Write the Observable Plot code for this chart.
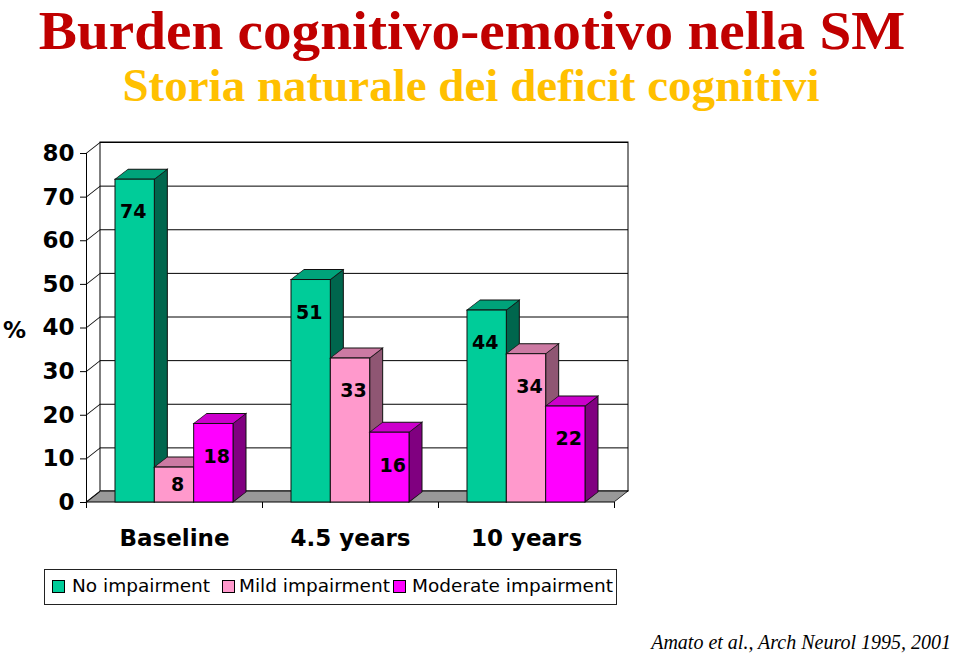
<!DOCTYPE html>
<html>
<head>
<meta charset="utf-8">
<script src="https://cdn.jsdelivr.net/npm/d3@7"></script>
<script src="https://cdn.jsdelivr.net/npm/@observablehq/plot@0.6"></script>
<style>
  html, body { margin: 0; padding: 0; background: #fff; }
  body { position: relative; width: 960px; height: 655px; overflow: hidden; }
  #title { position: absolute; left: 0; top: 4px; width: 944px; text-align: center;
    font: bold 54px "Liberation Serif", "Times New Roman", serif; line-height: 54px; color: #C00000; white-space: nowrap;
    transform: scaleX(1.06); transform-origin: 472px 0; }
  #subtitle { position: absolute; left: 0; top: 62px; width: 942px; text-align: center;
    font: bold 47px "Liberation Serif", "Times New Roman", serif; line-height: 47px; color: #FFC000; white-space: nowrap; }
  #chart { position: absolute; left: 0; top: 130px; }
  #pct { position: absolute; left: 3px; top: 319px; font: bold 23px "DejaVu Sans", Verdana, sans-serif; line-height: 23px; }
  #legend { position: absolute; left: 44px; top: 569px; width: 573px; height: 36px; box-sizing: border-box;
    border: 1px solid #222; background: #fff; }
  .sw { position: absolute; top: 10px; width: 13px; height: 13px; box-sizing: border-box; border: 1px solid #000; }
  .lt { position: absolute; top: 5px; font: 18.5px "DejaVu Sans", Verdana, sans-serif; line-height: 22px; color: #000; white-space: nowrap; }
  #caption { position: absolute; right: 9px; top: 631px; font: italic 20px "Liberation Serif", "Times New Roman", serif;
    line-height: 22px; color: #000; white-space: nowrap; }
</style>
</head>
<body>
<div id="title">Burden cognitivo-emotivo nella SM</div>
<div id="subtitle">Storia naturale dei deficit cognitivi</div>
<div id="chart"></div>
<div id="pct">%</div>
<div id="legend"></div>
<div id="caption">Amato et al., Arch Neurol 1995, 2001</div>
<script>
// ---------- data ----------
const categories = ["Baseline", "4.5 years", "10 years"];
const seriesNames = ["No impairment", "Mild impairment", "Moderate impairment"];
const noImpairment = [74, 51, 44];
const mildImpairment = [8, 33, 34];
const moderateImpairment = [18, 16, 22];
const yTicks = [0, 10, 20, 30, 40, 50, 60, 70, 80];

// ---------- styles ----------
const frontColors = ["#00CC99", "#FF99CC", "#FF00FF"];
const topColors = ["#00A37A", "#CC7AA3", "#CC00CC"];
const sideColors = ["#00664D", "#8F5673", "#800080"];
const floorColor = "#999999";

// ---------- layout ----------
const W = 960, H = 430;
const M = {top: 23, right: 346, bottom: 58, left: 86};
const innerW = W - M.left - M.right;
const band = innerW / categories.length;
const groupPad = 29;
const barW = (band - 2 * groupPad) / seriesNames.length;
const barDX = 13, barDY = 10;     // bar depth
const wallDX = 14, wallDY = 11;   // wall / floor depth

const seriesValues = [noImpairment, mildImpairment, moderateImpairment];
const table = categories.flatMap((c, ci) =>
  seriesNames.map((s, si) => ({category: c, series: s, si, value: seriesValues[si][ci]})));
const yDomain = [yTicks[0], yTicks[yTicks.length - 1]];

const marks = [];
// back wall
marks.push(Plot.barY([yDomain], {y1: d => d[0], y2: d => d[1], fill: "#fff", stroke: "#000", strokeWidth: 1,
  dx: wallDX, dy: -wallDY}));
// back-wall gridlines
marks.push(Plot.ruleY(yTicks, {y: d => d, stroke: "#000", strokeWidth: 1, dx: wallDX, dy: -wallDY}));
// floor
marks.push(Plot.barY([yDomain], {y1: d => d[0], y2: d => d[0], insetTop: -wallDY, fill: floorColor,
  stroke: "#000", strokeWidth: 1, ariaDescription: "floor"}));
// left wall diagonals
marks.push(Plot.ruleY(yTicks, {y: d => d, stroke: "#000", strokeWidth: 1, insetRight: innerW - wallDX, ariaDescription: "leftwall"}));
// category boundary ticks
marks.push(Plot.ruleX(categories, {x: d => d, y1: yDomain[0], y2: yDomain[0], insetBottom: -6, dx: -band / 2, stroke: "#000"}));
marks.push(Plot.ruleX(categories.slice(-1), {x: d => d, y1: yDomain[0], y2: yDomain[0], insetBottom: -6, dx: band / 2, stroke: "#000"}));

// bars, one series after another (painter's order)
seriesNames.forEach((s, si) => {
  const data = table.filter(d => d.si === si);
  const left = groupPad + si * barW;
  const right = band - left - barW;
  marks.push(Plot.barY(data, {x: "category", y1: () => 0, y2: "value",
    insetLeft: left + barW, insetRight: band - (left + barW) - barDX,
    fill: sideColors[si], stroke: "#111", strokeWidth: 1, ariaDescription: "side"}));
  marks.push(Plot.barY(data, {x: "category", y1: "value", y2: "value", insetTop: -barDY,
    insetLeft: left, insetRight: right,
    fill: topColors[si], stroke: "#111", strokeWidth: 1, ariaDescription: "top"}));
  marks.push(Plot.barY(data, {x: "category", y1: () => 0, y2: "value",
    insetLeft: left, insetRight: right,
    fill: frontColors[si], stroke: "#111", strokeWidth: 1, ariaDescription: "front"}));
});

// value labels
seriesNames.forEach((s, si) => {
  const data = table.filter(d => d.si === si);
  marks.push(Plot.text(data, {x: "category", y: d => Math.max(d.value - 7.5, d.value / 2), text: d => String(d.value),
    dx: (si - 1) * barW + (si > 0 ? 3 : -2), fontSize: 19, fontWeight: "bold", fill: "#000"}));
});

const svg = Plot.plot({
  width: W, height: H,
  marginTop: M.top, marginRight: M.right, marginBottom: M.bottom, marginLeft: M.left,
  style: {fontFamily: "'DejaVu Sans', Verdana, sans-serif", fontSize: "23px", fontWeight: "bold",
          color: "#000", background: "transparent", overflow: "visible"},
  x: {domain: categories, padding: 0, tickSize: 0, tickPadding: 27, label: null},
  y: {domain: yDomain, ticks: yTicks, tickSize: 6, tickPadding: 6, label: null, line: true},
  marks
});
document.getElementById("chart").appendChild(svg);

// give faces their 3D slant
function groupsOf(name) {
  return Array.from(svg.querySelectorAll("g")).filter(g => g.getAttribute("aria-description") === name);
}
const kY = barDY / barDX, kX = barDX / barDY;
groupsOf("side").forEach(g => g.querySelectorAll("rect").forEach(r => {
  const x0 = +r.getAttribute("x");
  r.setAttribute("transform", `matrix(1,${-kY},0,1,0,${kY * x0})`);
}));
groupsOf("top").forEach(g => g.querySelectorAll("rect").forEach(r => {
  const yb = +r.getAttribute("y") + +r.getAttribute("height");
  r.setAttribute("transform", `matrix(1,0,${-kX},1,${kX * yb},0)`);
}));
const fX = wallDX / wallDY, fY = wallDY / wallDX;
groupsOf("floor").forEach(g => g.querySelectorAll("rect").forEach(r => {
  const yb = +r.getAttribute("y") + +r.getAttribute("height");
  r.setAttribute("transform", `matrix(1,0,${-fX},1,${fX * yb},0)`);
}));
groupsOf("leftwall").forEach(g => g.querySelectorAll("line").forEach(l => {
  const x0 = +l.getAttribute("x1");
  l.setAttribute("transform", `matrix(1,${-fY},0,1,0,${fY * x0})`);
}));

// legend
const legend = document.getElementById("legend");
const swatchX = [7, 177, 348];
const textX = [27, 194, 367];
seriesNames.forEach((s, si) => {
  const sw = document.createElement("div");
  sw.className = "sw"; sw.style.left = swatchX[si] + "px"; sw.style.background = frontColors[si];
  const t = document.createElement("div");
  t.className = "lt"; t.style.left = textX[si] + "px"; t.textContent = s;
  legend.appendChild(sw); legend.appendChild(t);
});
</script>
</body>
</html>
